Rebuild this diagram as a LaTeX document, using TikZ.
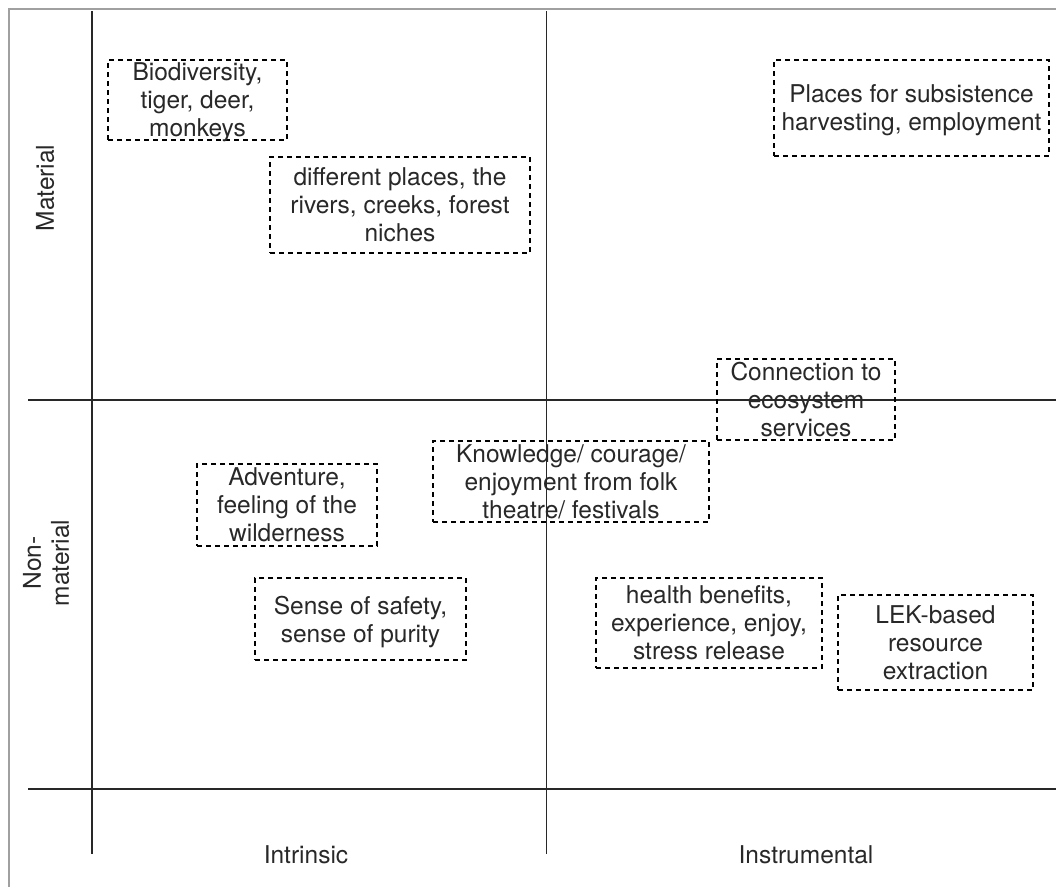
\documentclass[tikz,border=0pt]{standalone}
\usepackage{fontspec}
\setmainfont{TeX Gyre Heros}
\usepackage{tikz}
\definecolor{framegray}{RGB}{160,160,160}
\definecolor{inkgray}{RGB}{40,40,40}

\begin{document}
\begin{tikzpicture}[x=1pt,y=-1pt,
font=\fontsize{24.5}{28}\selectfont
]
    \tikzstyle{axis line}=[line width=1.4,draw=inkgray]
    \tikzstyle{dashed box}=[draw=black,line width=1.3,dash pattern=on 5pt off 4pt,
        align=center,inner sep=0,text depth=0pt,text=inkgray]
    \tikzstyle{axis label}=[inner sep=0,text depth=0pt,text=inkgray]

    \useasboundingbox (0,0) rectangle (1056,887);
    \fill[white] (0,0) rectangle (1056,887);

    % outer frame
    \coordinate (fbl) at (9,887);
    \coordinate (ftl) at (9,9);
    \coordinate (ftr) at (1056,9);
    \draw[framegray,line width=1.4] (fbl) -- (ftl) -- (ftr);

    % axes
    \coordinate (v1top) at (92,11);
    \coordinate (v1bot) at (92,854);
    \coordinate (v2top) at (546.5,11);
    \coordinate (v2bot) at (546.5,854);
    \coordinate (h1left) at (28,400);
    \coordinate (h1right) at (1056,400);
    \coordinate (h2left) at (28,789);
    \coordinate (h2right) at (1056,789);
    \draw[axis line] (v1top) -- (v1bot);
    \draw[axis line] (v2top) -- (v2bot);
    \draw[axis line] (h1left) -- (h1right);
    \draw[axis line] (h2left) -- (h2right);

    % axis labels
    \node(material)[axis label,rotate=90] at (45,188) {Material};
    \node(nonmaterial)[axis label,rotate=90,align=center] at (46,563) {Non-\\material};
    \node(intrinsic)[axis label] at (306,855) {Intrinsic};
    \node(instrumental)[axis label] at (806,855) {Instrumental};

    % values
    \node(bio)[dashed box,minimum width=179,minimum height=80] at (197.5,100)
        {Biodiversity,\\tiger, deer,\\monkeys};
    \node(places)[dashed box,minimum width=260,minimum height=96] at (400,205)
        {different places, the\\rivers, creeks, forest\\niches};
    \node(subsist)[dashed box,minimum width=275,minimum height=96] at (911.5,108)
        {Places for subsistence\\harvesting, employment};
    \node(connect)[dashed box,minimum width=178,minimum height=81] at (806,399.5)
        {Connection to\\ecosystem\\services};
    \node(knowledge)[dashed box,minimum width=276,minimum height=81] at (571,481.5)
        {Knowledge/ courage/\\enjoyment from folk\\theatre/ festivals};
    \node(adventure)[dashed box,minimum width=180,minimum height=82] at (287,505)
        {Adventure,\\feeling of the\\wilderness};
    \node(safety)[dashed box,minimum width=211,minimum height=82] at (360.5,619)
        {Sense of safety,\\sense of purity};
    \node(health)[dashed box,minimum width=226,minimum height=90] at (709,623)
        {health benefits,\\experience, enjoy,\\stress release};
    \node(lek)[dashed box,minimum width=195,minimum height=95] at (935.5,642.5)
        {LEK-based\\resource\\extraction};
\end{tikzpicture}
\end{document}
